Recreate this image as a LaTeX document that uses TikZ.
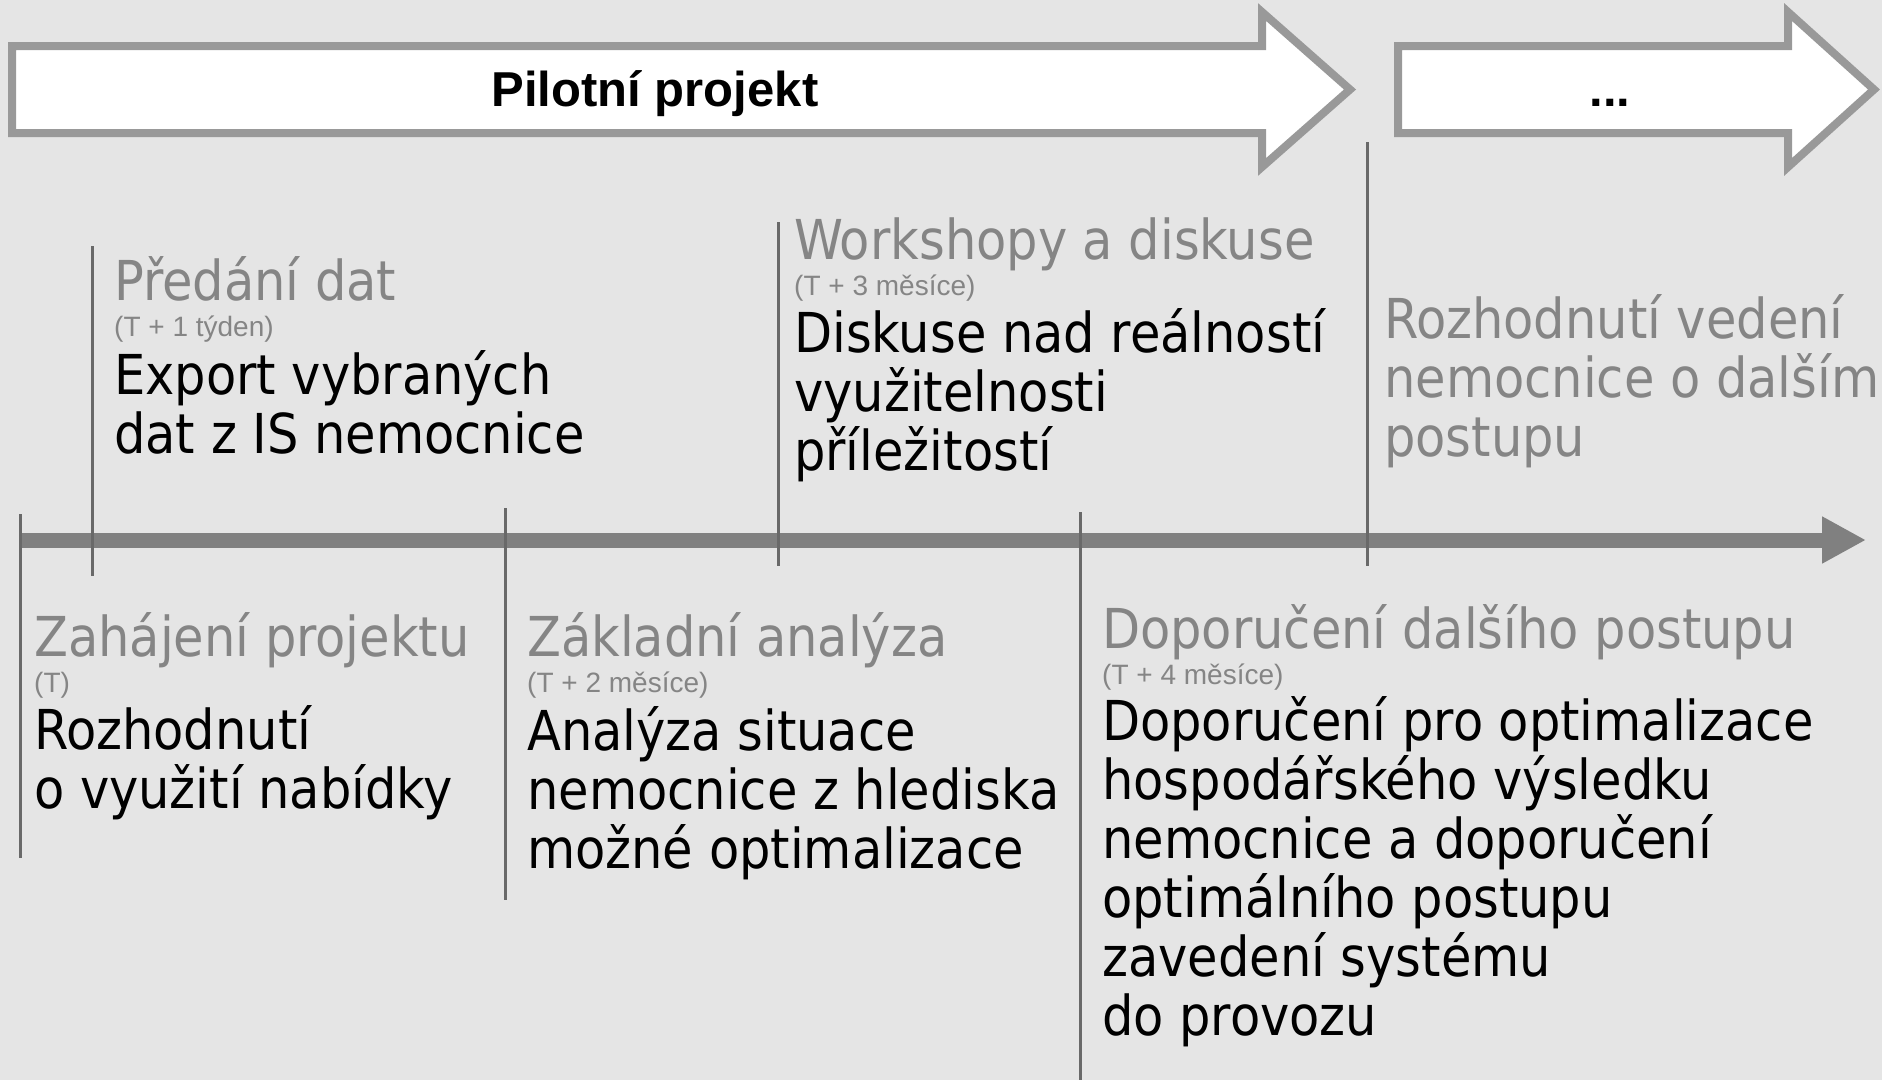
\documentclass[tikz,border=0pt]{standalone}
\usepackage{fontspec}
\usetikzlibrary{arrows.meta, positioning}
\newfontfamily\condfont{DejaVu Sans Condensed}
\newfontfamily\arialfont{Liberation Sans}
\definecolor{bggray}{RGB}{229, 229, 229}
\definecolor{framegray}{RGB}{153, 153, 153}
\definecolor{axisgray}{RGB}{128, 128, 128}
\definecolor{tickgray}{RGB}{105, 105, 105}
\definecolor{headgray}{RGB}{133, 133, 133}

\begin{document}
\begin{tikzpicture}[x=1pt, y=-1pt,
    phasearrow/.style={draw=framegray, line width=8pt, fill=white, line join=miter},
    phasetitle/.style={anchor=base, inner sep=0pt, font=\arialfont\bfseries\fontsize{49}{55}\selectfont},
    milestone/.style={draw=tickgray, line width=3pt},
    headline/.style={anchor=base west, inner sep=0pt, text=headgray, font=\condfont\fontsize{55}{59}\selectfont},
    dateline/.style={anchor=base west, inner sep=0pt, text=headgray, font=\arialfont\fontsize{28}{30}\selectfont},
    bodytext/.style={anchor=base west, inner sep=0pt, align=left, font=\condfont\fontsize{55}{59}\selectfont},
]

\useasboundingbox (0,0) rectangle (1882,1080);
\fill[bggray] (0,0) rectangle (1882,1080);

% phase arrows
\draw[phasearrow] (12,46) -- (1262,46) -- (1262,12) -- (1350,89.5) -- (1262,167) -- (1262,133) -- (12,133) -- cycle;
\node[phasetitle] (pilot) at (655,106) {Pilotní projekt};

\draw[phasearrow] (1398,46) -- (1788,46) -- (1788,12) -- (1874,89.5) -- (1788,167) -- (1788,133) -- (1398,133) -- cycle;
\node[phasetitle] (next) at (1610,106) {...};

% time axis
\draw[axisgray, line width=15pt, -{Triangle[length=44pt, width=44pt]}] (20,540) -- (1866,540);

\draw[milestone] (20,514)   -- (20,858);
\draw[milestone] (92,246)   -- (92,576);
\draw[milestone] (505,508)  -- (505,900);
\draw[milestone] (778,222)  -- (778,566);
\draw[milestone] (1080,512) -- (1080,1080);
\draw[milestone] (1367,142) -- (1367,566);

% above the axis (body nodes sit on their last line)
\node[headline] (predani)      at (114,300) {Předání dat};
\node[dateline] (predanidate)  at (114,336) {(T + 1 týden)};
\node[bodytext] (predanibody)  at (114,453) {Export vybraných\\dat z IS nemocnice};

\node[headline] (workshop)     at (794,259) {Workshopy a diskuse};
\node[dateline] (workshopdate) at (794,295) {(T + 3 měsíce)};
\node[bodytext] (workshopbody) at (794,470) {Diskuse nad reálností\\využitelnosti\\příležitostí};

\node[bodytext, text=headgray] (vedeni) at (1384,456) {Rozhodnutí vedení\\nemocnice o dalším\\postupu};

% below the axis
\node[headline] (zahajeni)     at (34,656) {Zahájení projektu};
\node[dateline] (zahajenidate) at (34,692) {(T)};
\node[bodytext] (zahajenibody) at (34,808) {Rozhodnutí\\o využití nabídky};

\node[headline] (analyza)      at (527,656) {Základní analýza};
\node[dateline] (analyzadate)  at (527,692) {(T + 2 měsíce)};
\node[bodytext] (analyzabody)  at (527,868) {Analýza situace\\nemocnice z hlediska\\možné optimalizace};

\node[headline] (doporuceni)     at (1102,648) {Doporučení dalšího postupu};
\node[dateline] (doporucenidate) at (1102,684) {(T + 4 měsíce)};
\node[bodytext] (doporucenibody) at (1102,1035) {Doporučení pro optimalizace\\hospodářského výsledku\\nemocnice a doporučení\\optimálního postupu\\zavedení systému\\do provozu};

\end{tikzpicture}
\end{document}
